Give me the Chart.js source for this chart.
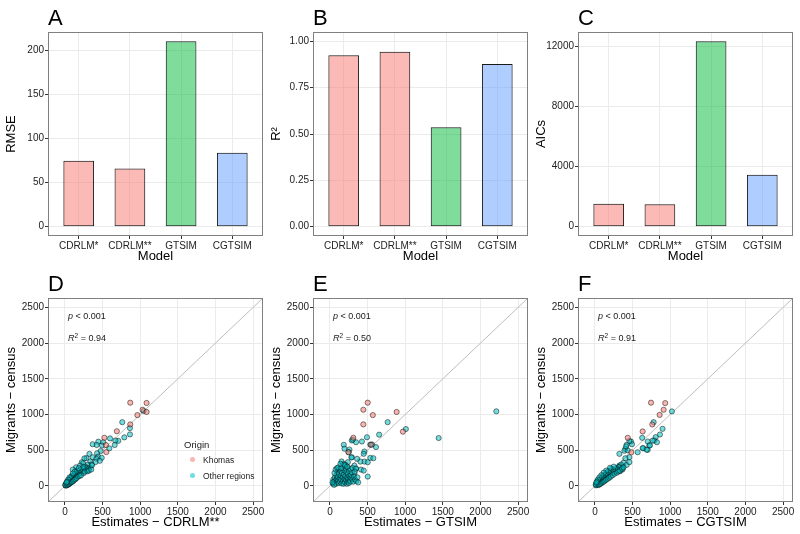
<!DOCTYPE html>
<html>
<head>
<meta charset="utf-8">
<script src="https://cdn.jsdelivr.net/npm/chart.js@4.4.1/dist/chart.umd.min.js"></script>
<style>
body{margin:0;background:#fff;width:800px;height:534px;position:relative;overflow:hidden;font-family:"Liberation Sans",Arial,sans-serif;}
canvas{position:absolute;}
.lbl{position:absolute;line-height:1;white-space:nowrap;color:#000;}
.tag{font-size:22px;}
.note{font-size:9px;color:#1a1a1a;}
.sup{font-size:6.5px;position:relative;top:-3.5px;}
.leg{font-size:8.5px;color:#1a1a1a;}
.dot{position:absolute;width:5px;height:5px;border-radius:50%;}
</style>
</head>
<body>
<canvas id="cA" width="268" height="266" style="left:0;top:0"></canvas>
<canvas id="cB" width="268" height="266" style="left:265px;top:0"></canvas>
<canvas id="cC" width="268" height="266" style="left:530px;top:0"></canvas>
<canvas id="cD" width="268" height="266" style="left:0;top:266px"></canvas>
<canvas id="cE" width="268" height="266" style="left:265px;top:266px"></canvas>
<canvas id="cF" width="268" height="266" style="left:530px;top:266px"></canvas>

<div class="lbl tag" style="left:48px;top:7px">A</div>
<div class="lbl tag" style="left:313px;top:7px">B</div>
<div class="lbl tag" style="left:578px;top:7px">C</div>
<div class="lbl tag" style="left:48px;top:273px">D</div>
<div class="lbl tag" style="left:313px;top:273px">E</div>
<div class="lbl tag" style="left:578px;top:273px">F</div>

<div class="lbl note" style="left:68px;top:312px"><i>p</i> &lt; 0.001</div>
<div class="lbl note" style="left:68px;top:334px"><i>R</i><span class="sup">2</span> = 0.94</div>
<div class="lbl note" style="left:333px;top:312px"><i>p</i> &lt; 0.001</div>
<div class="lbl note" style="left:333px;top:334px"><i>R</i><span class="sup">2</span> = 0.50</div>
<div class="lbl note" style="left:598px;top:312px"><i>p</i> &lt; 0.001</div>
<div class="lbl note" style="left:598px;top:334px"><i>R</i><span class="sup">2</span> = 0.91</div>

<div class="lbl" style="left:184px;top:440px;font-size:9.5px;color:#1a1a1a">Origin</div>
<div class="dot" style="left:190px;top:457px;background:rgba(248,118,109,0.55)"></div>
<div class="lbl leg" style="left:203px;top:456px">Khomas</div>
<div class="dot" style="left:190px;top:473px;background:rgba(0,191,196,0.55)"></div>
<div class="lbl leg" style="left:203px;top:472px">Other regions</div>

<script>
const FONT="Liberation Sans";
Chart.defaults.font.family=FONT;

const models=["CDRLM*","CDRLM**","GTSIM","CGTSIM"];
const rmse=[75,66,210.5,84];
const r2=[0.925,0.943,0.536,0.878];
const aics=[1530,1500,12330,3450];
const barFill=["rgba(248,118,109,0.5)","rgba(248,118,109,0.5)","rgba(0,186,56,0.5)","rgba(97,156,255,0.5)"];

const rmseTicks=[0,50,100,150,200];
const r2Ticks=[0,0.25,0.5,0.75,1];
const aicTicks=[0,4000,8000,12000];
const scatterTicks=[0,500,1000,1500,2000,2500];
const axisRange=[-225,2632];

// D: census vs CDRLM**
const dKhomasX=[868,1085,1032,1085,963,868,690,524,545,550];
const dKhomasY=[1166,1162,1067,1036,992,862,766,675,572,474];
const dOtherX=[1045,762,864,864,789,709,670,661,599,444,510,369,422,493,590,475,427,325,440,489,369,419,463,405,338,355,286,259,224,303,242,201,270,148,104,
  330,310,290,280,260,240,230,215,205,190,180,170,160,150,145,135,130,120,115,110,100,95,90,85,80,75,70,65,60,55,50,45,40,35,30,25,22,18,15,12,10,8,5,
  28,38,48,58,68,78,88,100,112,125,140,155,175,195,215,250,265,300,320,350,360,245,185,130,105,62,42,30,20];
const dOtherY=[1050,893,810,722,680,632,636,573,666,620,612,584,574,566,526,488,458,449,410,394,402,380,352,334,342,300,390,386,332,296,318,285,270,261,229,
  255,240,220,250,235,210,245,190,230,175,205,160,215,180,140,120,170,150,105,130,95,145,110,80,125,70,95,55,85,45,70,35,60,25,45,20,35,12,28,8,20,5,15,
  8,18,22,30,38,48,55,60,72,85,95,110,130,140,150,180,200,205,215,230,290,265,250,200,175,120,88,62,50];

// E: census vs GTSIM
const eKhomasX=[502,444,570,886,444,970,311,545,245];
const eKhomasY=[1166,1067,992,1036,862,760,675,577,472];
const eOtherX=[2211,1445,1009,767,654,492,425,347,290,184,193,259,250,290,458,449,612,537,458,502,537,577,405,325,414,449,502,325,347,171,228,304,361,286,238,207,154,560,
  40,50,45,60,65,70,80,85,90,95,100,105,110,115,120,125,130,135,140,145,150,155,160,165,170,175,180,185,190,195,200,205,210,215,220,225,230,235,240,245,250,255,260,265,270,280,285,290,300,310,320,335,350,365,375,
  60,75,95,110,55,35,150,200,190,140,270,300,345,330,230];
const eOtherY=[1045,671,797,893,718,682,622,612,636,576,522,510,472,402,482,450,544,578,341,332,393,388,341,285,229,215,131,169,239,309,261,648,380,399,333,296,343,580,
  30,60,90,40,120,70,30,150,95,55,200,125,80,40,170,240,100,60,210,140,90,35,180,250,120,70,30,160,220,100,50,140,240,80,190,30,120,60,170,100,40,210,140,80,60,150,110,190,90,60,130,90,70,120,50,
  180,230,250,260,15,50,250,280,300,310,240,250,245,200,270];

// F: census vs CGTSIM
const fKhomasX=[745,934,913,860,762,634,436,484];
const fKhomasY=[1166,1160,1067,995,861,763,674,472];
const fOtherX=[1023,780,899,864,807,789,701,722,643,701,568,634,628,480,422,493,404,325,457,404,383,370,422,325,458,348,366,335,317,392,436,414,458,824,767,731,687,
  340,320,300,285,270,255,240,225,215,200,190,180,170,160,150,140,130,120,110,100,95,85,80,72,65,58,52,45,40,35,30,25,20,15,10,
  48,60,75,90,105,120,135,150,170,190,210,235,260,290,310,330,360,380,250,200,150,115,85,60,40,28,18];
const fOtherY=[1044,893,800,720,683,636,622,566,528,506,472,530,674,622,576,584,520,449,402,388,323,261,295,285,333,296,230,207,258,493,498,554,629,612,634,568,507,
  250,265,230,210,245,200,225,180,240,170,210,150,200,130,175,110,160,95,140,80,120,65,100,50,85,40,70,30,55,20,40,15,30,8,20,
  12,22,30,42,55,62,75,88,100,115,130,150,170,185,200,215,240,260,270,255,215,185,150,120,90,65,48];

const pinkPt="rgba(248,118,109,0.55)";
const tealPt="rgba(0,191,196,0.55)";
const ptEdge="rgba(0,0,0,0.6)";

const frame={id:"frame",afterDatasetsDraw(c){
  const a=c.chartArea,ctx=c.ctx;
  ctx.save();
  ctx.strokeStyle="#808080";ctx.lineWidth=1;
  ctx.strokeRect(Math.round(a.left)+0.5,Math.round(a.top)+0.5,Math.round(a.width)-1,Math.round(a.height)-1);
  ctx.restore();
}};

function axis(pos,min,max,ticks,title,fmt){
  return {
    type:"linear",position:pos,min:min,max:max,offset:false,
    afterBuildTicks:s=>{s.ticks=ticks.map(v=>({value:v}));},
    afterFit:s=>{if(pos==="left") s.width=48; else s.height=30;},
    grid:{color:"#ebebeb",lineWidth:1,tickColor:"#333",tickLength:3,drawTicks:true,offset:false},
    border:{display:false},
    ticks:{color:"#222",font:{size:10},padding:1,maxRotation:0,autoSkip:false,callback:fmt},
    title:{display:true,text:title,color:"#000",font:{size:13},
      padding:pos==="left"?{top:4,bottom:0}:{top:0,bottom:1.5}}
  };
}

const base={responsive:false,animation:false,devicePixelRatio:1,
  layout:{padding:{top:32,right:5,left:0,bottom:0}},
  plugins:{legend:{display:false},tooltip:{enabled:false}}};

function barPanel(id,vals,yMin,yMax,yTicks,yTitle,yFmt){
  new Chart(document.getElementById(id),{
    type:"bar",
    data:{datasets:[{
      data:vals.map((v,i)=>({x:i+1,y:v})),
      backgroundColor:barFill,borderColor:"#1a1a1a",borderWidth:1,borderSkipped:false,
      barPercentage:0.6,categoryPercentage:1
    }]},
    options:Object.assign({},base,{scales:{
      x:axis("bottom",0.4,4.6,[1,2,3,4],"Model",v=>models[v-1]),
      y:axis("left",yMin,yMax,yTicks,yTitle,yFmt)
    }}),
    plugins:[frame]
  });
}

function scatterPanel(id,kx,ky,ox,oy,xTitle){
  const pts=(xs,ys)=>xs.map((x,i)=>({x:x,y:ys[i]}));
  new Chart(document.getElementById(id),{
    type:"scatter",
    data:{datasets:[
      {data:pts(kx,ky),backgroundColor:pinkPt,borderColor:ptEdge,borderWidth:0.8,pointRadius:2.6,order:0},
      {data:pts(ox,oy),backgroundColor:tealPt,borderColor:ptEdge,borderWidth:0.8,pointRadius:2.6,order:1},
      {type:"line",data:[{x:axisRange[0],y:axisRange[0]},{x:axisRange[1],y:axisRange[1]}],
        borderColor:"#bdbdbd",borderWidth:1,pointRadius:0,order:5}
    ]},
    options:Object.assign({},base,{scales:{
      x:axis("bottom",axisRange[0],axisRange[1],scatterTicks,xTitle,v=>String(v)),
      y:axis("left",axisRange[0],axisRange[1],scatterTicks,"Migrants \u2212 census",v=>String(v))
    }}),
    plugins:[frame]
  });
}

barPanel("cA",rmse,-10.5,221,rmseTicks,"RMSE",v=>String(v));
barPanel("cB",r2,-0.05,1.05,r2Ticks,"R\u00B2",v=>v.toFixed(2));
barPanel("cC",aics,-616,12946,aicTicks,"AICs",v=>String(v));

scatterPanel("cD",dKhomasX,dKhomasY,dOtherX,dOtherY,"Estimates \u2212 CDRLM**");
scatterPanel("cE",eKhomasX,eKhomasY,eOtherX,eOtherY,"Estimates \u2212 GTSIM");
scatterPanel("cF",fKhomasX,fKhomasY,fOtherX,fOtherY,"Estimates \u2212 CGTSIM");
</script>
</body>
</html>
